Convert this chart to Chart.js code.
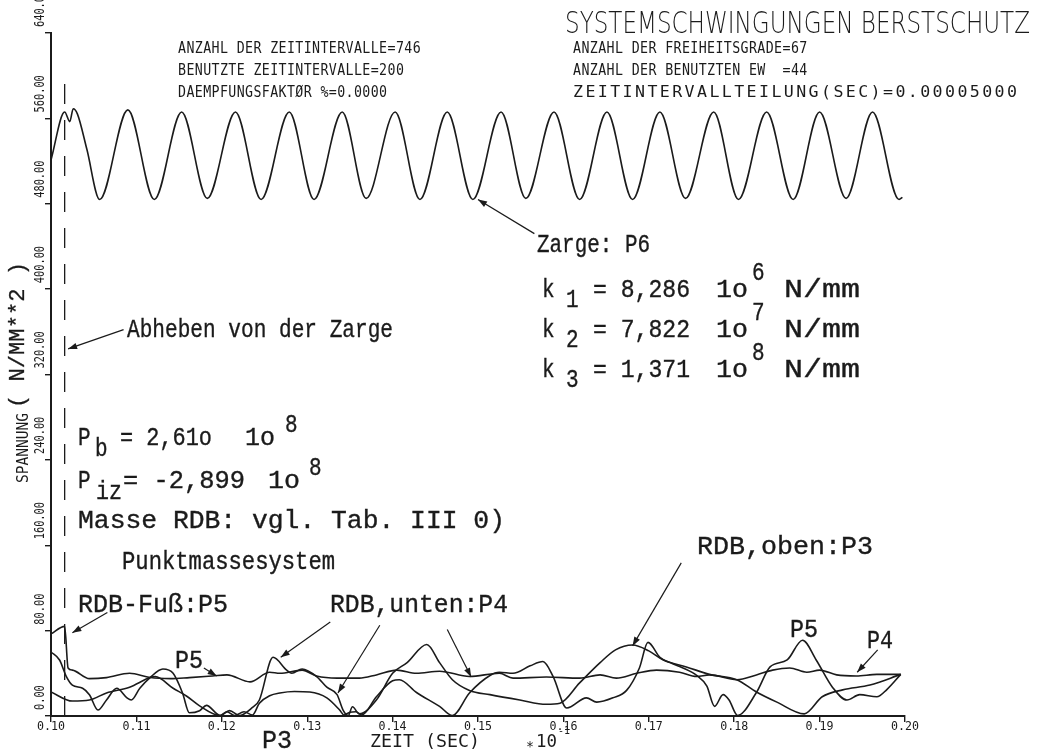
<!DOCTYPE html>
<html>
<head>
<meta charset="utf-8">
<script src="https://cdn.jsdelivr.net/npm/chart.js@4.4.1/dist/chart.umd.min.js"></script>
<style>
  html, body { margin: 0; padding: 0; background: #fff; }
  #wrap { width: 1046px; height: 753px; }
</style>
</head>
<body>
<div id="wrap"><canvas id="mycanvas" width="1046" height="753"></canvas></div>
<script>
// time in units of 1e-1 s, stress in N/mm**2
var xTickValues = [0.10, 0.11, 0.12, 0.13, 0.14, 0.15, 0.16, 0.17, 0.18, 0.19, 0.20];
var xTickLabels = ["0.10", "0.11", "0.12", "0.13", "0.14", "0.15", "0.16", "0.17", "0.18", "0.19", "0.20"];
var yTickValues = [0, 80, 160, 240, 320, 400, 480, 560, 640];
var yTickLabels = ["0.00", "80.00", "160.00", "240.00", "320.00", "400.00", "480.00", "560.00", "640.00"];

// Zarge, P6
var p6Time = [0.1000, 0.1016, 0.1022, 0.1026, 0.1031, 0.1042, 0.1057, 0.1090, 0.1121, 0.1153, 0.1183,
  0.1216, 0.1246, 0.1279, 0.1308, 0.1341, 0.1369, 0.1403, 0.1432, 0.1464, 0.1494, 0.1527, 0.1556,
  0.1589, 0.1619, 0.1651, 0.1681, 0.1713, 0.1743, 0.1776, 0.1805, 0.1838, 0.1869, 0.1900, 0.1931,
  0.1962, 0.1993, 0.1997];
var p6Stress = [521, 566, 557, 569, 564, 531, 484, 568, 484, 566, 485,
  566, 484, 566, 484, 566, 485, 566, 484, 566, 484, 566, 485,
  566, 484, 566, 484, 566, 485, 566, 484, 566, 484, 566, 485,
  566, 484, 486];

// RDB-Fuss, P5
var p5Time = [0.1000, 0.1016, 0.1020, 0.1025, 0.1045, 0.1065, 0.1092, 0.1116, 0.1140, 0.1162, 0.1189,
  0.1206, 0.1233, 0.1256, 0.1268, 0.1294, 0.1311, 0.1335, 0.1361, 0.1381, 0.1405, 0.1428, 0.1455,
  0.1490, 0.1525, 0.1541, 0.1580, 0.1619, 0.1643, 0.1662, 0.1686, 0.1709, 0.1736, 0.1756, 0.1771,
  0.1803, 0.1826, 0.1845, 0.1865, 0.1885, 0.1900, 0.1920, 0.1943, 0.1967, 0.1995];
var p5Stress = [77, 84, 45, 43, 35, 36, 40, 36, 35, 36, 37.5,
  38.5, 32, 41, 40, 43, 37.5, 35.5, 35.5, 38.5, 43, 40, 42,
  37, 40, 35.5, 36.5, 35.5, 38.5, 35.5, 40, 43, 41, 37, 38.5,
  34, 38.5, 43, 45, 41, 43, 38.5, 37.5, 39, 39];

// RDB unten, P4
var p4Time = [0.1000, 0.1010, 0.1018, 0.1025, 0.1037, 0.1045, 0.1055, 0.1065, 0.1077, 0.1089, 0.1094,
  0.1104, 0.1116, 0.1131, 0.1143, 0.1154, 0.1162, 0.1174, 0.1182, 0.1198, 0.1209, 0.1221, 0.1236,
  0.1244, 0.1260, 0.1276, 0.1282, 0.1294, 0.1311, 0.1323, 0.1335, 0.1342, 0.1348, 0.1353, 0.1361,
  0.1381, 0.1400, 0.1417, 0.1440, 0.1455, 0.1470, 0.1490, 0.1514, 0.1549, 0.1580, 0.1596, 0.1619,
  0.1643, 0.1661, 0.1681, 0.1700, 0.1717, 0.1744, 0.1771, 0.1803, 0.1826, 0.1850, 0.1882, 0.1903,
  0.1927, 0.1959, 0.1995];
var p4Stress = [60, 52.5, 37, 29, 26, 20, 5.6, 15, 26, 17, 15,
  26, 36, 44, 40, 21.6, 3, 5, 10, 0.5, 5, 0.5, 8,
  15, 55, 43, 40, 44, 37, 27, 20, 5.6, 0.5, 8.6, 2,
  15, 40, 50, 67, 50, 34, 24, 20, 15, 11, 12, 31,
  50, 62, 66.5, 61, 52.5, 46, 39, 34, 22.5, 13, 2, 18,
  24.5, 29, 39];

// RDB oben, P3
var p3Time = [0.1000, 0.1025, 0.1045, 0.1065, 0.1092, 0.1116, 0.1122, 0.1143, 0.1159, 0.1174, 0.1198,
  0.1206, 0.1215, 0.1226, 0.1236, 0.1244, 0.1256, 0.1268, 0.1285, 0.1303, 0.1323, 0.1338, 0.1343,
  0.1350, 0.1357, 0.1364, 0.1381, 0.1400, 0.1408, 0.1428, 0.1455, 0.1470, 0.1490, 0.1514, 0.1525,
  0.1541, 0.1561, 0.1576, 0.1588, 0.1604, 0.1627, 0.1639, 0.1658, 0.1674, 0.1689, 0.1699, 0.1713,
  0.1725, 0.1740, 0.1756, 0.1768, 0.1777, 0.1787, 0.1794, 0.1804, 0.1826, 0.1842, 0.1862, 0.1880,
  0.1896, 0.1915, 0.1932, 0.1947, 0.1967, 0.1979, 0.1995];
var p3Stress = [22.5, 14, 15, 21.6, 27, 36, 37, 26, 18.5, 9.5, 0.5,
  4, 0.5, 4, 1, 12, 19, 21.6, 23, 22.5, 17, 5.6, 1,
  3.5, 4, 1, 18, 33, 34, 22, 9, 0.5, 21.6, 38, 41,
  40, 47, 51, 37, 7.5, 17, 13, 17, 24, 45, 69, 55,
  50, 45, 38, 28, 9, 20, 15, 0.5, 22, 46, 52.5, 71,
  52.5, 27, 15, 20, 18, 25, 39];

// lift-off from the Zarge
var liftOffTime = 0.1016;
var liftOffTop = 597;

var INK = '#1b1b1b';
var PLOT = '"DejaVu Sans Mono", monospace';
var TYPE = '"Liberation Mono", "Courier New", monospace';

function pts(t, v) {
  return t.map(function (x, i) { return { x: x, y: v[i] }; });
}

function curve(label, t, v) {
  return {
    label: label,
    data: pts(t, v),
    borderColor: INK,
    borderWidth: 1.6,
    pointRadius: 0,
    fill: false,
    cubicInterpolationMode: 'monotone'
  };
}

// text with optional forced width and rotation, y is the baseline
function put(c, s, x, y, o) {
  c.save();
  c.font = (o.weight || 'normal') + ' ' + o.size + 'px ' + o.font;
  var natural = c.measureText(s).width;
  c.translate(x, y);
  if (o.rot) c.rotate(o.rot);
  c.scale(o.w ? o.w / natural : 1, o.sy || 1);
  c.textBaseline = 'alphabetic';
  c.textAlign = o.align || 'left';
  c.fillText(s, 0, 0);
  if (o.ink) {
    c.lineWidth = o.ink;
    c.strokeText(s, 0, 0);
  }
  c.restore();
}

// plotter text placed cell by cell: pitch between cells, gw glyph width
function putCells(c, s, x, y, pitch, gw, size) {
  c.save();
  c.font = size + 'px ' + PLOT;
  var cw = c.measureText('M').width;
  c.textBaseline = 'alphabetic';
  for (var i = 0; i < s.length; i++) {
    c.save();
    c.translate(x + i * pitch, y);
    c.scale(gw / cw, 1);
    c.fillText(s[i], 0, 0);
    c.restore();
  }
  c.restore();
}

function arrow(c, x0, y0, x1, y1) {
  var a = Math.atan2(y1 - y0, x1 - x0), L = 9, H = 3.2;
  c.beginPath();
  c.moveTo(x0, y0);
  c.lineTo(x1, y1);
  c.stroke();
  c.beginPath();
  c.moveTo(x1, y1);
  c.lineTo(x1 - L * Math.cos(a) + H * Math.sin(a), y1 - L * Math.sin(a) - H * Math.cos(a));
  c.lineTo(x1 - L * Math.cos(a) - H * Math.sin(a), y1 - L * Math.sin(a) + H * Math.cos(a));
  c.closePath();
  c.fill();
}

var paperNotes = {
  id: 'paperNotes',
  afterDraw: function (chart) {
    var c = chart.ctx, xs = chart.scales.x, ys = chart.scales.y;
    var px = function (t) { return xs.getPixelForValue(t); };
    var py = function (v) { return ys.getPixelForValue(v); };
    c.save();
    c.fillStyle = INK;
    c.strokeStyle = INK;
    c.lineWidth = 1.2;

    // axis numbering
    xTickValues.forEach(function (v, i) {
      put(c, xTickLabels[i], px(v), 730, { font: PLOT, size: 13, w: xTickLabels[i].length * 7, align: 'center' });
    });
    yTickValues.forEach(function (v, i) {
      put(c, yTickLabels[i], 44, py(v) - 6, { font: PLOT, size: 14, w: yTickLabels[i].length * 6.2, rot: -Math.PI / 2 });
    });

    // axis titles
    put(c, 'SPANNUNG', 28, 483, { font: PLOT, size: 16, w: 70, rot: -Math.PI / 2 });
    put(c, '( N/MM**2 )', 24, 408, { font: TYPE, size: 22, w: 146, rot: -Math.PI / 2, ink: 0.3 });
    put(c, 'ZEIT (SEC)', 370, 747, { font: PLOT, size: 17, w: 110 });
    put(c, '*', 526, 751, { font: PLOT, size: 14, w: 8 });
    put(c, '10', 536, 747, { font: PLOT, size: 18, w: 21 });
    put(c, '-1', 558, 734, { font: PLOT, size: 10, w: 12 });

    // plotter header
    put(c, 'SYSTEMSCHWINGUNGEN BERSTSCHUTZ', 565, 33, { font: '"DejaVu Sans"', weight: 200, size: 31, w: 465 });
    putCells(c, 'ANZAHL DER ZEITINTERVALLE=746', 178, 53, 8.38, 8, 16);
    putCells(c, 'BENUTZTE ZEITINTERVALLE=200', 178, 75, 8.38, 8, 16);
    putCells(c, 'DAEMPFUNGSFAKT\u00D8R %=0.0000', 178, 97, 8.38, 8, 16);
    putCells(c, 'ANZAHL DER FREIHEITSGRADE=67', 573, 53, 8.38, 8, 16);
    putCells(c, 'ANZAHL DER BENUTZTEN EW  =44', 573, 75, 8.38, 8, 16);
    putCells(c, 'ZEITINTERVALLTEILUNG(SEC)=0.00005000', 573, 97, 12.4, 10, 16);

    // typed notes
    var T = function (s, x, y, w) { put(c, s, x, y, { font: TYPE, size: 21, w: w, sy: 1.2, ink: 0.3 }); };
    T('Zarge: P6', 537, 252, 113);
    [['1', '8,286', '6'], ['2', '7,822', '7'], ['3', '1,371', '8']].forEach(function (k, i) {
      var b = 297 + i * 40;
      T('k', 542, b);
      T(k[0], 566, b + 10);
      T('= ' + k[1], 593, b, 97);
      T('1o', 716, b, 32);
      T(k[2], 752, b - 17);
      T('N/mm', 784, b, 76);
    });
    T('Abheben von der Zarge', 127, 337, 266);
    T('P', 78, 445); T('b', 95, 456); T('= 2,61o', 120, 445, 92); T('1o', 245, 445, 30); T('8', 285, 432);
    T('P', 78, 488); T('iz', 96, 499, 26); T('= -2,899', 123, 488, 122); T('1o', 268, 488, 32); T('8', 309, 475);
    T('Masse RDB: vgl. Tab. III 0)', 78, 528, 427);
    T('Punktmassesystem', 122, 569, 213);
    T('RDB-Fu\u00DF:P5', 78, 612, 150);
    T('RDB,unten:P4', 330, 612, 178);
    T('RDB,oben:P3', 697, 554, 176);
    T('P5', 175, 668, 28);
    T('P5', 790, 637, 28);
    T('P4', 867, 648, 26);
    T('P3', 262, 748, 30);

    // callout arrows, tail -> tip in data units
    [[0.1566, 452, 0.1500, 484],
     [0.1085, 362, 0.1020, 344],
     [0.1066, 97, 0.1025, 78],
     [0.1179, 45, 0.1194, 37.5],
     [0.1327, 88, 0.1269, 55],
     [0.1385, 85, 0.1336, 21.6],
     [0.1464, 81, 0.1492, 36.6],
     [0.1738, 143.5, 0.1681, 65.7],
     [0.1968, 62, 0.1944, 41]].forEach(function (a) {
      arrow(c, px(a[0]), py(a[1]), px(a[2]), py(a[3]));
    });
    c.restore();
  }
};

var chartdata = {
  datasets: [
    curve('Zarge: P6', p6Time, p6Stress),
    curve('RDB-Fuss: P5', p5Time, p5Stress),
    curve('RDB, unten: P4', p4Time, p4Stress),
    curve('RDB, oben: P3', p3Time, p3Stress),
    {
      label: 'Abheben',
      data: [{ x: liftOffTime, y: 0 }, { x: liftOffTime, y: liftOffTop }],
      borderColor: INK,
      borderWidth: 1.3,
      borderDash: [20, 16],
      pointRadius: 0,
      fill: false
    }
  ]
};

var axisGrid = { display: true, drawOnChartArea: false, drawTicks: true, tickLength: 6, color: INK, lineWidth: 1.4 };
var axisBorder = { display: true, color: INK, width: 2 };

new Chart(document.getElementById('mycanvas'), {
  type: 'line',
  data: chartdata,
  plugins: [paperNotes],
  options: {
    responsive: false,
    animation: false,
    devicePixelRatio: 1,
    layout: { padding: { left: 45, right: 141, top: 33, bottom: 31 } },
    plugins: { legend: { display: false }, tooltip: { enabled: false } },
    scales: {
      x: {
        type: 'linear', min: 0.10, max: 0.20,
        afterBuildTicks: function (s) { s.ticks = xTickValues.map(function (v) { return { value: v }; }); },
        ticks: { display: false },
        grid: axisGrid, border: axisBorder
      },
      y: {
        type: 'linear', min: 0, max: 640,
        afterBuildTicks: function (s) { s.ticks = yTickValues.map(function (v) { return { value: v }; }); },
        ticks: { display: false },
        grid: axisGrid, border: axisBorder
      }
    }
  }
});
</script>
</body>
</html>
